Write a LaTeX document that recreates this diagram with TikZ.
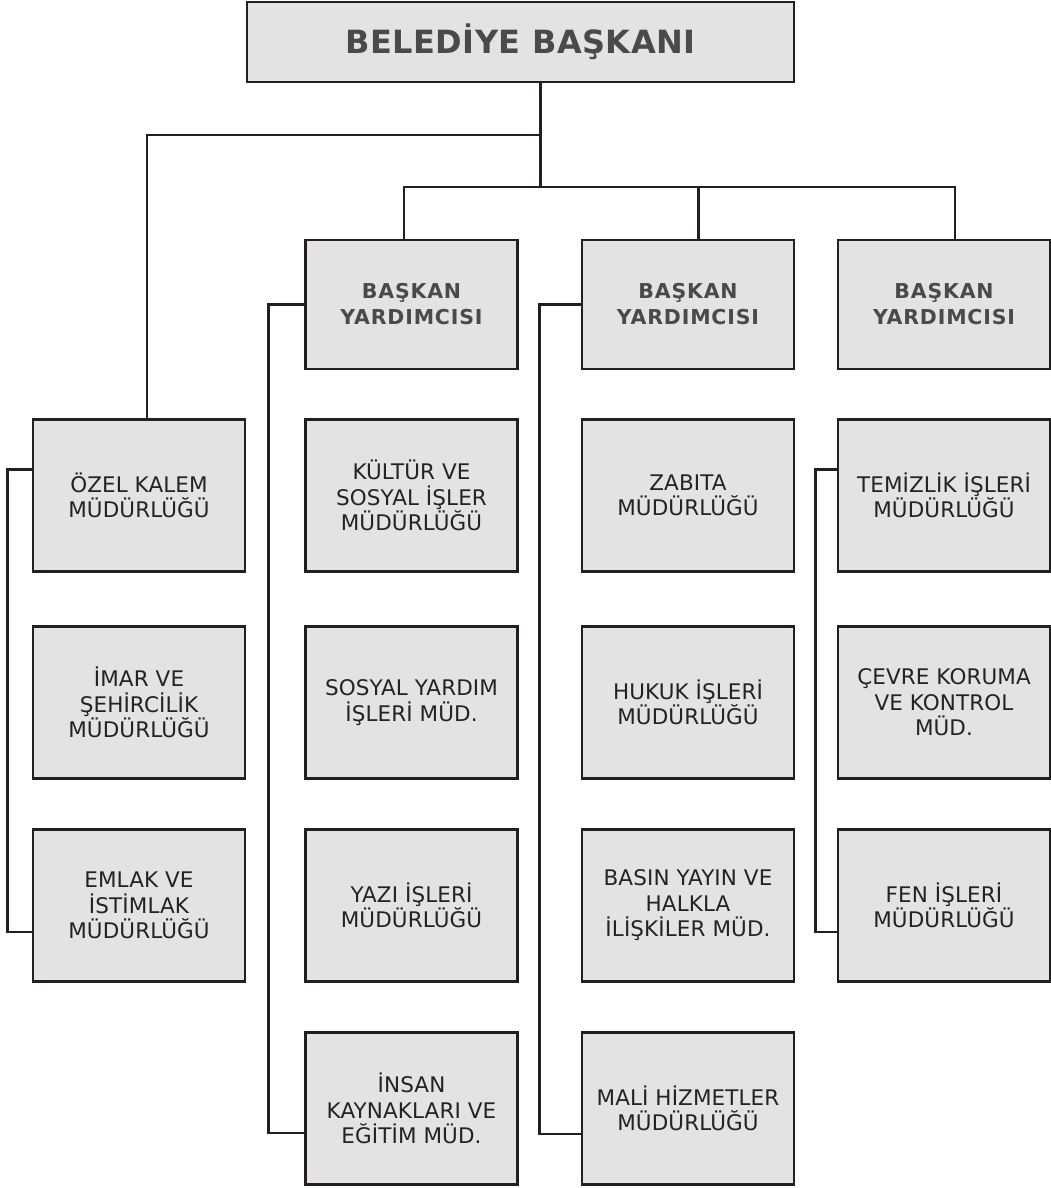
\documentclass[tikz,border=0pt]{standalone}
\usepackage{fontspec}
\setmainfont{DejaVu Sans}
\newfontfamily\unitfont[LetterSpace=0.5]{DejaVu Sans}
\newfontfamily\headfont[LetterSpace=4]{DejaVu Sans}
\newfontfamily\topfont[LetterSpace=1.5]{DejaVu Sans}
\definecolor{boxGray}{HTML}{E3E3E3}
\definecolor{lineDark}{HTML}{231F20}
\definecolor{headGray}{HTML}{4A4A4A}
\definecolor{textDark}{HTML}{232323}

\begin{document}
\begin{tikzpicture}[x=1pt,y=-1pt,
      unitbox/.style={
         draw=lineDark,
         line width=2.8pt,
         fill=boxGray,
         align=center,
         inner sep=2pt,
         minimum width=212pt,
         minimum height=152pt,
         text=textDark,
         font={\unitfont\fontsize{21.5}{25.5}\selectfont}},
      headbox/.style={
         unitbox,
         minimum height=129pt,
         text=headGray,
         font={\headfont\bfseries\fontsize{20.5}{26}\selectfont}},
      topbox/.style={
         unitbox,
         minimum width=547pt,
         minimum height=80pt,
         text=headGray,
         font={\topfont\bfseries\fontsize{32}{38}\selectfont}},
      link/.style={draw=lineDark, line width=2.4pt, line cap=rect}
      ]
      \useasboundingbox (0,0) rectangle (1050,1188);

      % top
      \node[topbox] (baskan) at (520.5,42) {BELEDİYE BAŞKANI};

      % deputies
      \node[headbox] (by2) at (411.5,304.5) {BAŞKAN\\YARDIMCISI};
      \node[headbox] (by3) at (688,304.5) {BAŞKAN\\YARDIMCISI};
      \node[headbox] (by4) at (944,304.5) {BAŞKAN\\YARDIMCISI};

      % column 1
      \node[unitbox] (ozel)  at (139,495.5) {ÖZEL KALEM\\MÜDÜRLÜĞÜ};
      \node[unitbox] (imar)  at (139,702.5) {İMAR VE\\ŞEHİRCİLİK\\MÜDÜRLÜĞÜ};
      \node[unitbox] (emlak) at (139,905.5) {EMLAK VE\\İSTİMLAK\\MÜDÜRLÜĞÜ};

      % column 2
      \node[unitbox] (kultur) at (411.5,495.5) {KÜLTÜR VE\\SOSYAL İŞLER\\MÜDÜRLÜĞÜ};
      \node[unitbox] (sosyal) at (411.5,702.5) {SOSYAL YARDIM\\İŞLERİ MÜD.};
      \node[unitbox] (yazi)   at (411.5,905.5) {YAZI İŞLERİ\\MÜDÜRLÜĞÜ};
      \node[unitbox] (insan)  at (411.5,1108.5) {İNSAN\\KAYNAKLARI VE\\EĞİTİM MÜD.};

      % column 3
      \node[unitbox] (zabita) at (688,495.5) {ZABITA\\MÜDÜRLÜĞÜ};
      \node[unitbox] (hukuk)  at (688,702.5) {HUKUK İŞLERİ\\MÜDÜRLÜĞÜ};
      \node[unitbox] (basin)  at (688,905.5) {BASIN YAYIN VE\\HALKLA\\İLİŞKİLER MÜD.};
      \node[unitbox] (mali)   at (688,1108.5) {MALİ HİZMETLER\\MÜDÜRLÜĞÜ};

      % column 4
      \node[unitbox] (temiz) at (944,495.5) {TEMİZLİK İŞLERİ\\MÜDÜRLÜĞÜ};
      \node[unitbox] (cevre) at (944,702.5) {ÇEVRE KORUMA\\VE KONTROL\\MÜD.};
      \node[unitbox] (fen)   at (944,905.5) {FEN İŞLERİ\\MÜDÜRLÜĞÜ};

      % junctions
      \coordinate (topJ) at (540.5,135);
      \coordinate (ozelJ) at (146.7,135);
      \coordinate (busJ) at (540.5,186.7);
      \coordinate (busL) at (404,186.7);
      \coordinate (busM) at (698.5,186.7);
      \coordinate (busR) at (955,186.7);

      \draw[link] (topJ |- baskan.south) -- (busJ);
      \draw[link] (topJ) -- (ozelJ) -- (ozelJ |- ozel.north);
      \draw[link] (busL |- by2.north) -- (busL) -- (busR) -- (busR |- by4.north);
      \draw[link] (busM) -- (busM |- by3.north);

      % brackets
      \draw[link] ([yshift=26pt]ozel.west) -- ++(-24.2,0) |- ([yshift=-26.5pt]emlak.west);
      \draw[link] (by2.west) -- ++(-35.5,0) |- ([yshift=-24.5pt]insan.west);
      \draw[link] (by3.west) -- ++(-41.3,0) |- ([yshift=-25.5pt]mali.west);
      \draw[link] ([yshift=26pt]temiz.west) -- ++(-21.3,0) |- ([yshift=-26.5pt]fen.west);
\end{tikzpicture}
\end{document}
